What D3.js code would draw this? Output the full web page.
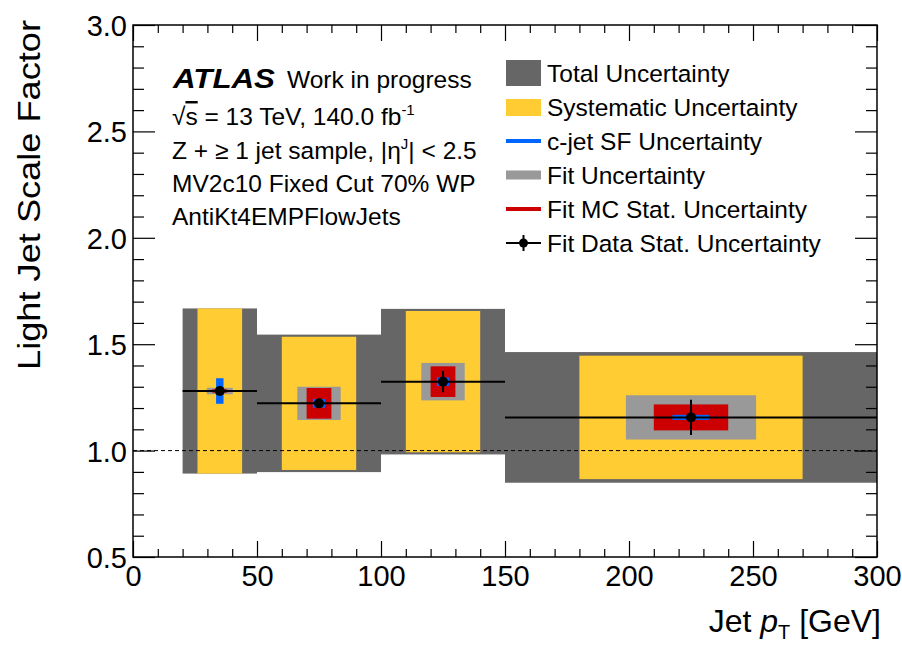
<!doctype html>
<html lang="en">
<head>
  <meta charset="utf-8">
  <title>Light Jet Scale Factor</title>
  <script src="https://d3js.org/d3.v7.min.js"></script>
  <style>
    body { margin: 0; background: #fff; }
    svg text { font-family: 'Liberation Sans', Arial, Helvetica, sans-serif; fill: #000; }
  </style>
</head>
<body>
<svg id="chart" width="902" height="648"></svg>
<script>
// bins in jet pT [GeV]
const binLow  = [20, 50, 100, 150];
const binHigh = [50, 100, 150, 300];
// fitted scale factor and its uncertainties (half widths)
const sf          = [1.280, 1.222, 1.324, 1.156];
const totalUnc    = [0.388, 0.323, 0.342, 0.307];
const systUnc     = [0.388, 0.313, 0.332, 0.290];
const fitUnc      = [0.015, 0.078, 0.088, 0.104];
const mcStatUnc   = [0.008, 0.072, 0.072, 0.061];
const cjetUnc     = [0.060, 0.020, 0.020, 0.012];
const dataStatUnc = [0.015, 0.020, 0.050, 0.083];

const xTicks = [0, 50, 100, 150, 200, 250, 300];
const yTicks = [0.5, 1.0, 1.5, 2.0, 2.5, 3.0];

const legendLabels = ["Total Uncertainty", "Systematic Uncertainty", "c-jet SF Uncertainty",
  "Fit Uncertainty", "Fit MC Stat. Uncertainty", "Fit Data Stat. Uncertainty"];

const W = 902, H = 648;
const m = {left: 133, right: 25, top: 25, bottom: 91};

const svg = d3.select("#chart");
const x = d3.scaleLinear().domain([0, 300]).range([m.left, W - m.right]);
const y = d3.scaleLinear().domain([0.5, 3.0]).range([H - m.bottom, m.top]);

const cDark = "#666666", cYellow = "#ffcc33", cBlue = "#0066ff", cGrey = "#999999", cRed = "#cc0000";

// boxes: width as a fraction of the bin
function boxes(unc, frac, color) {
  svg.append("g").selectAll("rect")
    .data(sf.map((v, i) => ({v, u: unc[i], lo: binLow[i], hi: binHigh[i]})))
    .enter().append("rect")
    .attr("x", d => x((d.lo + d.hi) / 2 - (d.hi - d.lo) / 2 * frac))
    .attr("width", d => x((d.lo + d.hi) / 2 + (d.hi - d.lo) / 2 * frac) - x((d.lo + d.hi) / 2 - (d.hi - d.lo) / 2 * frac))
    .attr("y", d => y(d.v + d.u))
    .attr("height", d => y(d.v - d.u) - y(d.v + d.u))
    .attr("fill", color);
}
boxes(totalUnc, 1.0, cDark);
boxes(systUnc, 0.6, cYellow);
boxes(fitUnc, 0.35, cGrey);
boxes(mcStatUnc, 0.2, cRed);
boxes(cjetUnc, 0.1, cBlue);

// reference line at 1
svg.append("line")
  .attr("x1", x(0)).attr("x2", x(300)).attr("y1", y(1)).attr("y2", y(1))
  .attr("stroke", "#000").attr("stroke-width", 1).attr("stroke-dasharray", "4,3");

// data points with bin width and data stat error
const pts = svg.append("g");
sf.forEach((v, i) => {
  const cx = (binLow[i] + binHigh[i]) / 2;
  pts.append("line").attr("x1", x(binLow[i])).attr("x2", x(binHigh[i]))
    .attr("y1", y(v)).attr("y2", y(v)).attr("stroke", "#000").attr("stroke-width", 2);
  pts.append("line").attr("x1", x(cx)).attr("x2", x(cx))
    .attr("y1", y(v + dataStatUnc[i])).attr("y2", y(v - dataStatUnc[i]))
    .attr("stroke", "#000").attr("stroke-width", 2);
  pts.append("circle").attr("cx", x(cx)).attr("cy", y(v)).attr("r", 5).attr("fill", "#000");
});

// axes, ticks pointing inwards on all four sides
const xMinor = d3.range(0, 301, 10).filter(v => v % 50);
const yMinor = d3.range(5, 31, 1).map(v => v / 10).filter(v => Math.round(v * 10) % 5);

function axis(gen, scale, vals, size, fmt, tr) {
  const g = svg.append("g").attr("transform", tr)
    .call(gen(scale).tickValues(vals).tickSize(-size).tickPadding(8).tickFormat(fmt));
  g.select(".domain").remove();
  g.selectAll("line").attr("stroke", "#000").attr("stroke-width", 1.2);
  return g;
}
const bx = axis(d3.axisBottom, x, xTicks, 16, d3.format("d"), `translate(0,${y(0.5)})`);
axis(d3.axisBottom, x, xMinor, 8, "", `translate(0,${y(0.5)})`);
axis(d3.axisTop, x, xTicks, 16, "", `translate(0,${y(3)})`);
axis(d3.axisTop, x, xMinor, 8, "", `translate(0,${y(3)})`);
const ly = axis(d3.axisLeft, y, yTicks, 22, d3.format(".1f"), `translate(${x(0)},0)`);
axis(d3.axisLeft, y, yMinor, 11, "", `translate(${x(0)},0)`);
axis(d3.axisRight, y, yTicks, 22, "", `translate(${x(300)},0)`);
axis(d3.axisRight, y, yMinor, 11, "", `translate(${x(300)},0)`);
bx.selectAll("text").attr("font-size", 29).attr("font-family", "'Liberation Sans', Arial, sans-serif");
ly.selectAll("text").attr("font-size", 29).attr("font-family", "'Liberation Sans', Arial, sans-serif")
  .attr("dy", "0.36em").attr("x", -6);

svg.append("rect").attr("x", x(0)).attr("y", y(3)).attr("width", x(300) - x(0)).attr("height", y(0.5) - y(3))
  .attr("fill", "none").attr("stroke", "#000").attr("stroke-width", 1.5);

// axis titles
const xt = svg.append("text").attr("x", 881).attr("y", 632).attr("text-anchor", "end").attr("font-size", 32);
xt.append("tspan").text("Jet ");
xt.append("tspan").attr("font-style", "italic").text("p");
xt.append("tspan").attr("font-size", 20).attr("dy", 7).text("T");
xt.append("tspan").attr("dy", -7).text(" [GeV]");

svg.append("text").attr("transform", "translate(40,20) rotate(-90)")
  .attr("text-anchor", "end").attr("font-size", 32)
  .attr("textLength", 350).attr("lengthAdjust", "spacingAndGlyphs").text("Light Jet Scale Factor");

// label block
const fs = 24.5;
svg.append("text").attr("x", 173).attr("y", 88).attr("font-size", 27).attr("font-weight", "bold")
  .attr("font-style", "italic").attr("textLength", 102).attr("lengthAdjust", "spacingAndGlyphs").text("ATLAS");
svg.append("text").attr("x", 287).attr("y", 88).attr("font-size", fs).text("Work in progress");

const l2 = svg.append("text").attr("x", 172).attr("y", 125).attr("font-size", fs);
l2.append("tspan").text("\u221A");
l2.append("tspan").attr("text-decoration", "overline").text("s");
l2.append("tspan").text(" = 13 TeV, 140.0 fb");
l2.append("tspan").attr("font-size", 15).attr("dy", -10).text("-1");

const l3 = svg.append("text").attr("x", 172).attr("y", 159).attr("font-size", fs);
l3.append("tspan").text("Z + \u2265 1 jet sample, |\u03B7");
l3.append("tspan").attr("font-size", 15).attr("dy", -10).text("J");
l3.append("tspan").attr("dy", 10).text("| < 2.5");

svg.append("text").attr("x", 172).attr("y", 192).attr("font-size", fs).text("MV2c10 Fixed Cut 70% WP");
svg.append("text").attr("x", 172).attr("y", 225).attr("font-size", fs).text("AntiKt4EMPFlowJets");

// legend
const leg = svg.append("g");
const ly0 = 73, dy = 34, lx0 = 506, lx1 = 541;
leg.append("rect").attr("x", lx0).attr("y", ly0 - 13).attr("width", lx1 - lx0).attr("height", 26).attr("fill", cDark);
leg.append("rect").attr("x", lx0).attr("y", ly0 + dy - 8).attr("width", lx1 - lx0).attr("height", 17).attr("fill", cYellow);
leg.append("rect").attr("x", lx0).attr("y", ly0 + 2 * dy - 2).attr("width", lx1 - lx0).attr("height", 4).attr("fill", cBlue);
leg.append("rect").attr("x", lx0).attr("y", ly0 + 3 * dy - 4.5).attr("width", lx1 - lx0).attr("height", 9).attr("fill", cGrey);
leg.append("rect").attr("x", lx0).attr("y", ly0 + 4 * dy - 2).attr("width", lx1 - lx0).attr("height", 4).attr("fill", cRed);
const yd = ly0 + 5 * dy;
leg.append("line").attr("x1", lx0).attr("x2", lx1).attr("y1", yd).attr("y2", yd).attr("stroke", "#000").attr("stroke-width", 2);
leg.append("line").attr("x1", (lx0 + lx1) / 2).attr("x2", (lx0 + lx1) / 2).attr("y1", yd - 8).attr("y2", yd + 8).attr("stroke", "#000").attr("stroke-width", 2);
leg.append("circle").attr("cx", (lx0 + lx1) / 2).attr("cy", yd).attr("r", 4.5).attr("fill", "#000");
leg.selectAll("text").data(legendLabels).enter().append("text")
  .attr("x", 547).attr("y", (d, i) => ly0 + i * dy + 8.5).attr("font-size", fs).text(d => d);
</script>
</body>
</html>
